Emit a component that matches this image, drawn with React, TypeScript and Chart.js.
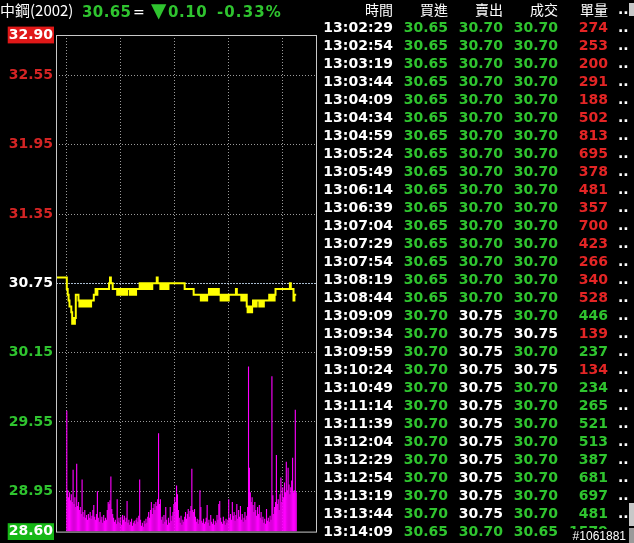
import React, { useEffect, useRef } from "react";
import { Chart, registerables } from "chart.js";

Chart.register(...registerables);

// ---------- DATA ----------
const stockName = "中鋼(2002)";
const lastPrice = "30.65";
const changeText = "0.10";
const changePct = "-0.33%";

const REF_PRICE = 30.75;
const LIMIT_UP = 32.9;
const LIMIT_DOWN = 28.6;
const priceTicks = [32.9, 32.55, 31.95, 31.35, 30.75, 30.15, 29.55, 28.95, 28.6];
const hourMarks = [0, 60, 120, 180, 240]; // minutes after 09:00
const axisStartMin = -12;
const axisEndMin = 277;

// minute-by-minute price from 09:00
const prices = [
  30.80, 30.70, 30.65, 30.60, 30.55, 30.55, 30.50, 30.40, 30.45, 30.40,
  30.45, 30.65, 30.65, 30.65, 30.60, 30.55, 30.60, 30.55, 30.60, 30.55,
  30.60, 30.60, 30.55, 30.60, 30.55, 30.55, 30.60, 30.55, 30.60, 30.60,
  30.60, 30.65, 30.65, 30.70, 30.65, 30.70, 30.70, 30.70, 30.70, 30.70,
  30.70, 30.70, 30.70, 30.70, 30.70, 30.70, 30.70, 30.70, 30.75, 30.80,
  30.75, 30.75, 30.70, 30.70, 30.70, 30.70, 30.70, 30.65, 30.70, 30.65,
  30.70, 30.65, 30.70, 30.65, 30.70, 30.65, 30.70, 30.65, 30.70, 30.70,
  30.70, 30.65, 30.70, 30.65, 30.70, 30.65, 30.70, 30.65, 30.70, 30.70,
  30.70, 30.70, 30.75, 30.70, 30.75, 30.70, 30.75, 30.70, 30.75, 30.70,
  30.75, 30.70, 30.75, 30.70, 30.75, 30.70, 30.75, 30.75, 30.75, 30.75,
  30.75, 30.80, 30.75, 30.75, 30.75, 30.70, 30.75, 30.75, 30.70, 30.75,
  30.75, 30.70, 30.75, 30.70, 30.75, 30.75, 30.75, 30.75, 30.75, 30.75,
  30.75, 30.75, 30.75, 30.75, 30.75, 30.75, 30.75, 30.75, 30.75, 30.75,
  30.75, 30.75, 30.70, 30.70, 30.70, 30.70, 30.70, 30.70, 30.70, 30.70,
  30.70, 30.70, 30.65, 30.65, 30.65, 30.65, 30.65, 30.65, 30.65, 30.65,
  30.60, 30.65, 30.60, 30.65, 30.60, 30.65, 30.60, 30.65, 30.65, 30.70,
  30.65, 30.70, 30.65, 30.70, 30.65, 30.70, 30.65, 30.70, 30.65, 30.70,
  30.65, 30.65, 30.60, 30.65, 30.60, 30.65, 30.60, 30.65, 30.60, 30.65,
  30.60, 30.65, 30.65, 30.65, 30.65, 30.65, 30.65, 30.65, 30.65, 30.70,
  30.65, 30.65, 30.65, 30.65, 30.65, 30.60, 30.65, 30.60, 30.65, 30.60,
  30.65, 30.55, 30.50, 30.55, 30.50, 30.55, 30.50, 30.55, 30.60, 30.60,
  30.55, 30.55, 30.60, 30.60, 30.60, 30.55, 30.60, 30.55, 30.60, 30.55,
  30.60, 30.60, 30.60, 30.60, 30.60, 30.60, 30.65, 30.60, 30.65, 30.60,
  30.65, 30.60, 30.65, 30.70, 30.70, 30.70, 30.70, 30.70, 30.70, 30.70,
  30.70, 30.70, 30.70, 30.70, 30.70, 30.70, 30.70, 30.70, 30.70, 30.75,
  30.70, 30.70, 30.70, 30.60, 30.65, 30.65,
];

// minute-by-minute volume (lots)
const volumes = [
  1230, 420, 350, 400, 320, 380, 300, 630, 280, 350,
  250, 690, 260, 300, 220, 250, 180, 530, 200, 150,
  220, 140, 170, 120, 180, 140, 200, 130, 160, 220,
  270, 150, 120, 180, 410, 140, 100, 200, 120, 150,
  90, 170, 110, 140, 120, 220, 300, 280, 320, 560,
  230, 180, 140, 100, 120, 80, 330, 100, 140, 90,
  150, 70, 170, 120, 160, 100, 140, 310, 90, 120,
  70, 100, 130, 60, 90, 110, 80, 120, 140, 100,
  160, 530, 120, 60, 90, 50, 110, 80, 130, 90,
  150, 200, 140, 220, 300, 180, 240, 280, 220, 300,
  260, 330, 1000, 280, 330, 120, 150, 80, 170, 100,
  250, 120, 70, 140, 90, 250, 110, 160, 200, 280,
  350, 300, 470, 380, 220, 140, 90, 160, 70, 120,
  100, 150, 200, 130, 180, 230, 150, 210, 260, 640,
  220, 200, 230, 150, 100, 130, 80, 120, 420, 250,
  110, 90, 130, 80, 100, 140, 270, 90, 120, 60,
  170, 100, 80, 130, 70, 110, 90, 170, 120, 280,
  310, 140, 100, 80, 150, 110, 70, 130, 90, 120,
  330, 140, 180, 120, 300, 160, 200, 110, 170, 280,
  130, 220, 150, 260, 120, 180, 100, 140, 200, 120,
  160, 250, 1680, 650, 400, 300, 350, 270, 200, 300,
  220, 160, 250, 180, 270, 140, 200, 120, 150, 90,
  130, 80, 230, 110, 140, 100, 160, 120, 1580, 370,
  180, 250, 300, 780, 280, 330, 220, 380, 550, 300,
  450, 350, 500, 400, 710, 420, 650, 480, 380, 450,
  520, 750, 400, 420, 1240, 400,
];
const volumeAxisMax = 5050;

// tick table
const tableHeaders = ["時間", "買進", "賣出", "成交", "單量"];
const rowTimes = [
  "13:02:29", "13:02:54", "13:03:19", "13:03:44", "13:04:09", "13:04:34", "13:04:59",
  "13:05:24", "13:05:49", "13:06:14", "13:06:39", "13:07:04", "13:07:29", "13:07:54",
  "13:08:19", "13:08:44", "13:09:09", "13:09:34", "13:09:59", "13:10:24", "13:10:49",
  "13:11:14", "13:11:39", "13:12:04", "13:12:29", "13:12:54", "13:13:19", "13:13:44",
  "13:14:09",
];
const rowBid = [
  30.65, 30.65, 30.65, 30.65, 30.65, 30.65, 30.65, 30.65, 30.65, 30.65, 30.65, 30.65, 30.65, 30.65,
  30.65, 30.65, 30.70, 30.70, 30.70, 30.70, 30.70, 30.70, 30.70, 30.70, 30.70, 30.70, 30.70, 30.70,
  30.65,
];
const rowAsk = [
  30.70, 30.70, 30.70, 30.70, 30.70, 30.70, 30.70, 30.70, 30.70, 30.70, 30.70, 30.70, 30.70, 30.70,
  30.70, 30.70, 30.75, 30.75, 30.75, 30.75, 30.75, 30.75, 30.75, 30.75, 30.75, 30.75, 30.75, 30.75,
  30.70,
];
const rowDeal = [
  30.70, 30.70, 30.70, 30.70, 30.70, 30.70, 30.70, 30.70, 30.70, 30.70, 30.70, 30.70, 30.70, 30.70,
  30.70, 30.70, 30.70, 30.75, 30.70, 30.75, 30.70, 30.70, 30.70, 30.70, 30.70, 30.70, 30.70, 30.70,
  30.65,
];
const rowVol = [
  274, 253, 200, 291, 188, 502, 813, 695, 378, 481, 357, 700, 423, 266,
  340, 528, 446, 139, 237, 134, 234, 265, 521, 513, 387, 681, 697, 481,
  1579,
];
const serialText = "#1061881";

// ---------- STYLE ----------
const RED = "#e32525";
const AXIS_RED = "#d42424";
const GREEN = "#2fc42f";
const WHITE = "#ffffff";
const NUM_FONT = "'DejaVu Sans', Verdana, sans-serif";
const CJK_FONT = "'Noto Sans CJK TC', 'Noto Sans CJK SC', sans-serif";

const priceColor = (p: number) => (p > REF_PRICE + 1e-9 ? RED : p < REF_PRICE - 1e-9 ? GREEN : WHITE);

function Txt(props: {
  x: number;
  y: number;
  right?: boolean;
  color: string;
  size: number;
  bold?: boolean;
  family?: string;
  lh?: number;
  ls?: number;
  w?: number;
  children: React.ReactNode;
}) {
  const w = props.w ?? 120;
  const lh = props.lh ?? 18;
  const style: React.CSSProperties = {
    position: "absolute",
    top: props.y,
    left: props.right ? props.x - w : props.x,
    width: props.right ? w : undefined,
    textAlign: props.right ? "right" : "left",
    color: props.color,
    fontSize: props.size,
    fontWeight: props.bold ? "bold" : "normal",
    fontFamily: props.family ?? NUM_FONT,
    lineHeight: lh + "px",
    height: lh,
    letterSpacing: props.ls ? props.ls + "px" : undefined,
    whiteSpace: "nowrap",
  };
  return <div style={style}>{props.children}</div>;
}

export default function App() {
  const canvasRef = useRef<HTMLCanvasElement | null>(null);

  useEffect(() => {
    const canvas = canvasRef.current;
    if (!canvas) return;

    const framePlugin = {
      id: "frame",
      afterDatasetsDraw(chart: any) {
        const { ctx, chartArea: a } = chart;
        ctx.save();
        ctx.strokeStyle = "#c8c8c8";
        ctx.lineWidth = 1;
        ctx.setLineDash([]);
        ctx.strokeRect(a.left + 0.5, a.top + 0.5, a.right - a.left, a.bottom - a.top);
        ctx.restore();
      },
    };

    const lineData = [{ x: axisStartMin, y: REF_PRICE }, ...prices.map((p, i) => ({ x: i, y: p }))];
    const barData = volumes.map((v, i) => ({ x: i, y: v }));

    const tickVal = (ctx: any) => (ctx && ctx.tick ? ctx.tick.value : undefined);
    const near = (a: any, b: number) => typeof a === "number" && Math.abs(a - b) < 1e-6;

    const chart = new Chart(canvas, {
      type: "bar",
      data: {
        datasets: [
          {
            type: "line",
            data: lineData as any,
            borderColor: "#ffff00",
            borderWidth: 2,
            borderJoinStyle: "miter",
            stepped: "after",
            pointRadius: 0,
            tension: 0,
            yAxisID: "y",
            xAxisID: "x",
            order: 0,
          } as any,
          {
            type: "bar",
            data: barData as any,
            backgroundColor: "#ff00ff",
            borderWidth: 0,
            barPercentage: 1.25,
            categoryPercentage: 1,
            yAxisID: "yv",
            xAxisID: "x",
            order: 1,
          } as any,
        ],
      },
      options: {
        responsive: false,
        maintainAspectRatio: false,
        animation: false,
        layout: { padding: { top: 35, right: 4, bottom: 3, left: 0 } },
        plugins: { legend: { display: false }, tooltip: { enabled: false } },
        scales: {
          x: {
            type: "linear",
            min: axisStartMin,
            max: axisEndMin,
            offset: false,
            afterBuildTicks: (s: any) => {
              s.ticks = hourMarks.map((v) => ({ value: v }));
            },
            afterFit: (s: any) => {
              s.height = 0;
            },
            ticks: { display: false },
            grid: { color: "#9a9a9a", drawTicks: false, offset: false, lineWidth: 1 },
            border: { display: false, dash: [1, 2] },
          },
          y: {
            type: "linear",
            position: "left",
            min: LIMIT_DOWN,
            max: LIMIT_UP,
            afterBuildTicks: (s: any) => {
              s.ticks = priceTicks.map((v) => ({ value: v }));
            },
            afterFit: (s: any) => {
              s.width = 56;
            },
            ticks: {
              autoSkip: false,
              padding: 3,
              callback: (v: any) => Number(v).toFixed(2),
              font: { family: "DejaVu Sans", size: 14, weight: "bold" },
              color: (ctx: any) => {
                const v = tickVal(ctx);
                if (near(v, LIMIT_UP) || near(v, LIMIT_DOWN)) return WHITE;
                if (v > REF_PRICE + 1e-9) return AXIS_RED;
                return priceColor(v);
              },
              showLabelBackdrop: (ctx: any) => {
                const v = tickVal(ctx);
                return near(v, LIMIT_UP) || near(v, LIMIT_DOWN);
              },
              backdropColor: (ctx: any) => {
                const v = tickVal(ctx);
                if (near(v, LIMIT_UP)) return "#e01818";
                if (near(v, LIMIT_DOWN)) return "#16b816";
                return "rgba(0,0,0,0)";
              },
              backdropPadding: { top: 0, bottom: 0, left: 1, right: 1 },
            } as any,
            grid: {
              drawTicks: false,
              lineWidth: 1,
              color: (ctx: any) => {
                const v = tickVal(ctx);
                if (near(v, LIMIT_UP) || near(v, LIMIT_DOWN)) return "rgba(0,0,0,0)";
                if (near(v, REF_PRICE)) return "#a9bccf";
                return "#9a9a9a";
              },
            },
            border: {
              display: false,
              dash: (ctx: any) => (near(tickVal(ctx), REF_PRICE) ? [2, 1] : [1, 2]),
            } as any,
          },
          yv: {
            type: "linear",
            display: false,
            min: 0,
            max: volumeAxisMax,
            grid: { display: false },
          },
        },
      } as any,
      plugins: [framePlugin],
    });

    return () => chart.destroy();
  }, []);

  const colRights = [393, 448, 503, 558, 608];
  const rowTop = (i: number) => 18 + 18 * i;

  return (
    <div
      style={{
        position: "fixed",
        left: 0,
        top: 0,
        width: 634,
        height: 543,
        background: "#000",
        overflow: "hidden",
      }}
    >
      <canvas
        ref={canvasRef}
        width={320}
        height={543}
        style={{ position: "absolute", left: 0, top: 0, width: 320, height: 543 }}
      />

      {/* header */}
      <Txt x={0} y={1} color={WHITE} size={15} family={CJK_FONT}>
        {stockName}
      </Txt>
      <Txt x={82} y={3} color={GREEN} size={15} bold ls={0.4}>
        {lastPrice}
      </Txt>
      <Txt x={133} y={3} color={WHITE} size={14}>
        =
      </Txt>
      <Txt x={151} y={1} color={GREEN} size={20} bold>
        ▼
      </Txt>
      <Txt x={168} y={3} color={GREEN} size={15} bold ls={0.6}>
        {changeText}
      </Txt>
      <Txt x={217} y={3} color={GREEN} size={15} bold ls={1.1}>
        {changePct}
      </Txt>

      {/* table header */}
      {tableHeaders.map((h, i) => (
        <Txt key={"h" + i} x={colRights[i]} y={0} right color={WHITE} size={14} family={CJK_FONT}>
          {h}
        </Txt>
      ))}
      <Txt x={618} y={0} color={WHITE} size={14} bold>
        ..
      </Txt>

      {/* table rows */}
      {rowTimes.map((t, i) => {
        const y = rowTop(i);
        const volColor = Math.abs(rowDeal[i] - rowAsk[i]) < 1e-6 ? RED : GREEN;
        return (
          <React.Fragment key={"r" + i}>
            <Txt x={colRights[0]} y={y} right color={WHITE} size={14} bold>
              {t}
            </Txt>
            <Txt x={colRights[1]} y={y} right color={priceColor(rowBid[i])} size={14} bold>
              {rowBid[i].toFixed(2)}
            </Txt>
            <Txt x={colRights[2]} y={y} right color={priceColor(rowAsk[i])} size={14} bold>
              {rowAsk[i].toFixed(2)}
            </Txt>
            <Txt x={colRights[3]} y={y} right color={priceColor(rowDeal[i])} size={14} bold>
              {rowDeal[i].toFixed(2)}
            </Txt>
            <Txt x={colRights[4]} y={y} right color={volColor} size={14} bold>
              {String(rowVol[i])}
            </Txt>
            <Txt x={618} y={y} color={WHITE} size={14} bold>
              ..
            </Txt>
          </React.Fragment>
        );
      })}

      {/* scrollbar bits */}
      <div style={{ position: "absolute", left: 629, top: 3, width: 5, height: 13, background: "#c8c8c8" }} />
      <div style={{ position: "absolute", left: 629, top: 503, width: 5, height: 23, background: "#c8c8c8" }} />
      <div style={{ position: "absolute", left: 629, top: 528, width: 5, height: 15, background: "#9a9a9a" }} />

      {/* serial overlay */}
      <div
        style={{
          position: "absolute",
          left: 570,
          top: 529,
          width: 58,
          height: 14,
          background: "#000",
          color: WHITE,
          fontFamily: "'Liberation Sans', Arial, sans-serif",
          fontSize: 12,
          lineHeight: "14px",
          textAlign: "right",
          paddingRight: 2,
          boxSizing: "border-box",
          whiteSpace: "nowrap",
        }}
      >
        {serialText}
      </div>
    </div>
  );
}
